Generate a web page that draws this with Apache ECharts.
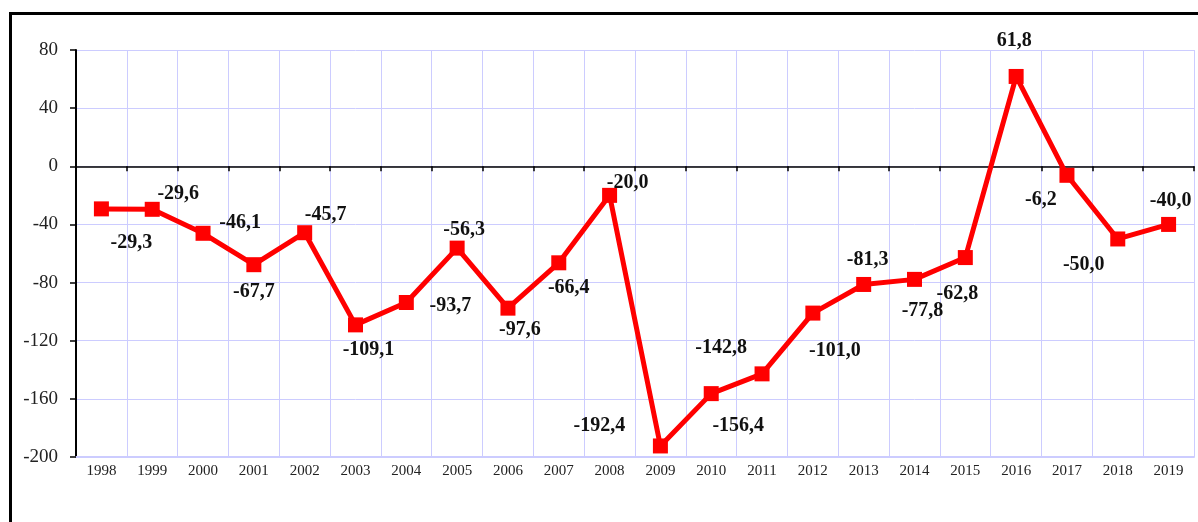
<!DOCTYPE html>
<html>
<head>
<meta charset="utf-8">
<script src="https://cdn.jsdelivr.net/npm/echarts@6/dist/echarts.min.js"></script>
<style>
  html, body { margin: 0; padding: 0; background: #fff; overflow: hidden; }
  #frame { position: absolute; left: 9px; top: 12px; width: 1400px; height: 700px; border: 3px solid #000; }
  #chart { position: absolute; left: 0; top: 0; width: 1198px; height: 522px; }
</style>
</head>
<body>
<div id="frame"></div>
<div id="chart"></div>
<script>
  // years and values
  var years = ['1998','1999','2000','2001','2002','2003','2004','2005','2006','2007','2008',
               '2009','2010','2011','2012','2013','2014','2015','2016','2017','2018','2019'];
  var values = [-29.3, -29.6, -46.1, -67.7, -45.7, -109.1, -93.7, -56.3, -97.6, -66.4, -20.0,
                -192.4, -156.4, -142.8, -101.0, -81.3, -77.8, -62.8, 61.8, -6.2, -50.0, -40.0];
  var yTicks = [-200, -160, -120, -80, -40, 0, 40, 80];

  // where each value label sits relative to its point (px)
  var labelOffsets = [[30,34],[26,-15],[37,-10],[0,27],[21,-18],[13,25],[44,3],[7,-18],[12,22],[10,25],[18,-13],
                      [-61,-20],[27,32],[-41,-26],[22,38],[4,-25],[8,31],[-8,36],[-2,-36],[-26,25],[-34,26],[2,-24]];

  var serif = '"Liberation Serif", "DejaVu Serif", serif';
  var grid = '#ccccff';

  var chart = echarts.init(document.getElementById('chart'));

  var seriesData = values.map(function (v, i) {
    return {
      value: v,
      label: { position: 'inside', offset: labelOffsets[i] }
    };
  });

  chart.setOption({
    animation: false,
    grid: { left: 76, right: 4, top: 50, bottom: 65 },
    xAxis: [
      {
        type: 'category',
        data: years,
        position: 'bottom',
        axisLine: { onZero: false, lineStyle: { color: grid, width: 2 } },
        axisTick: { show: false },
        axisLabel: { fontFamily: serif, fontSize: 15, color: '#222', margin: 7 },
        splitLine: { show: true, lineStyle: { color: grid, width: 1 } }
      },
      {
        type: 'category',
        data: years,
        position: 'bottom',
        axisLine: { onZero: true, lineStyle: { color: '#000', width: 1.5 } },
        axisTick: { show: true, length: 5, lineStyle: { color: '#000', width: 1.5 } },
        axisLabel: { show: false },
        splitLine: { show: false }
      }
    ],
    yAxis: {
      type: 'value',
      min: yTicks[0],
      max: yTicks[yTicks.length - 1],
      interval: 40,
      axisLine: { show: true, lineStyle: { color: '#000', width: 2 } },
      axisTick: { show: true, length: 6, lineStyle: { color: '#000', width: 1.5 } },
      axisLabel: { fontFamily: serif, fontSize: 19, color: '#222', margin: 18 },
      splitLine: { show: true, lineStyle: { color: grid, width: 1 } }
    },
    series: [{
      type: 'line',
      xAxisIndex: 0,
      data: seriesData,
      symbol: 'rect',
      symbolSize: 15,
      itemStyle: { color: '#ff0000' },
      lineStyle: { color: '#ff0000', width: 5 },
      label: {
        show: true,
        fontFamily: serif,
        fontSize: 20,
        fontWeight: 'bold',
        color: '#111',
        formatter: function (p) { return p.value.toFixed(1).replace('.', ','); }
      },
      z: 5
    }]
  });
</script>
</body>
</html>
